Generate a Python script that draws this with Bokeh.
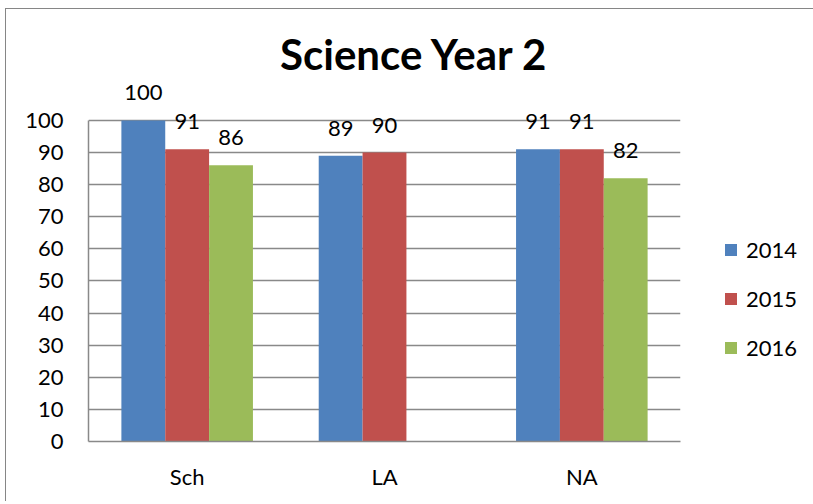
from bokeh.plotting import figure
from bokeh.models import ColumnDataSource, FactorRange, Range1d, LabelSet, Label, Legend, LegendItem
from bokeh.transform import dodge
from bokeh.core.properties import value
from bokeh.embed import file_html
from bokeh.resources import INLINE

# ---- data ----
categories = ["Sch", "LA", "NA"]
years = ["2014", "2015", "2016"]
values_2014 = [100, 89, 91]
values_2015 = [91, 90, 91]
values_2016 = [86, None, 82]
y_ticks = [0, 10, 20, 30, 40, 50, 60, 70, 80, 90, 100]
title_text = "Science Year 2"

colors = ["#4F81BD", "#C0504D", "#9BBB59"]
FONT = "Lato"
GRID = "#898989"

p = figure(
    x_range=FactorRange(*categories, range_padding=0),
    y_range=Range1d(0, 128),
    frame_width=592, frame_height=411,
    output_backend="svg", toolbar_location=None,
    min_border_left=82, min_border_right=128,
    min_border_top=21, min_border_bottom=60,
)
p.styles = {"border-top": "1px solid #868686", "border-left": "1px solid #868686",
            "margin-left": "5px", "margin-top": "8px"}
p.outline_line_color = None
p.background_fill_color = "white"
p.border_fill_color = "white"

bar_w = 1 / 4.5
offsets = [-bar_w, 0.0, bar_w]
series = [values_2014, values_2015, values_2016]
items = []
for yr, vals, off, col in zip(years, series, offsets, colors):
    cats = [c for c, v in zip(categories, vals) if v is not None]
    vs = [v for v in vals if v is not None]
    src = ColumnDataSource(dict(cat=cats, val=vs, lab=[str(v) for v in vs]))
    r = p.vbar(x=dodge("cat", off, range=p.x_range), top="val", width=bar_w,
               source=src, fill_color=col, line_color=None)
    items.append(LegendItem(label=yr, renderers=[r]))
    ls = LabelSet(x=dodge("cat", off, range=p.x_range), y="val", text="lab",
                  source=src, text_align="center", text_baseline="alphabetic",
                  y_offset=20, text_font=value(FONT), text_font_size="22px",
                  text_color="black")
    p.add_layout(ls)

# axes
p.yaxis.ticker = y_ticks
p.yaxis.bounds = (0, 100)
p.yaxis.major_tick_line_color = None
p.yaxis.minor_tick_line_color = None
p.yaxis.major_tick_out = 0
p.yaxis.major_label_standoff = 25
p.yaxis.axis_line_color = GRID
p.yaxis.axis_line_width = 1.5
p.yaxis.major_label_text_font = FONT
p.yaxis.major_label_text_font_size = "22px"
p.yaxis.major_label_text_color = "black"

p.xaxis.major_tick_line_color = None
p.xaxis.major_tick_out = 0
p.xaxis.axis_line_color = GRID
p.xaxis.axis_line_width = 1.5
p.xaxis.major_label_standoff = 21
p.xaxis.major_label_text_font = FONT
p.xaxis.major_label_text_font_size = "22px"
p.xaxis.major_label_text_color = "black"

p.xgrid.grid_line_color = None
p.ygrid.grid_line_color = GRID
p.ygrid.grid_line_width = 1.5

# title
p.add_layout(Label(x=1.652, y=120.6, text=title_text, text_align="center",
                   text_baseline="middle", text_font=FONT,
                   text_font_size="42px", text_font_style="bold", text_color="black"))

legend = Legend(items=items, location=(43, 80), orientation="vertical",
                glyph_width=15, glyph_height=15, label_text_font=FONT,
                label_text_font_size="22px", label_text_color="black",
                spacing=22, label_standoff=8, padding=0, margin=0,
                border_line_color=None, background_fill_alpha=0)
p.add_layout(legend, "right")

open("out.html", "w").write(file_html(p, INLINE))
